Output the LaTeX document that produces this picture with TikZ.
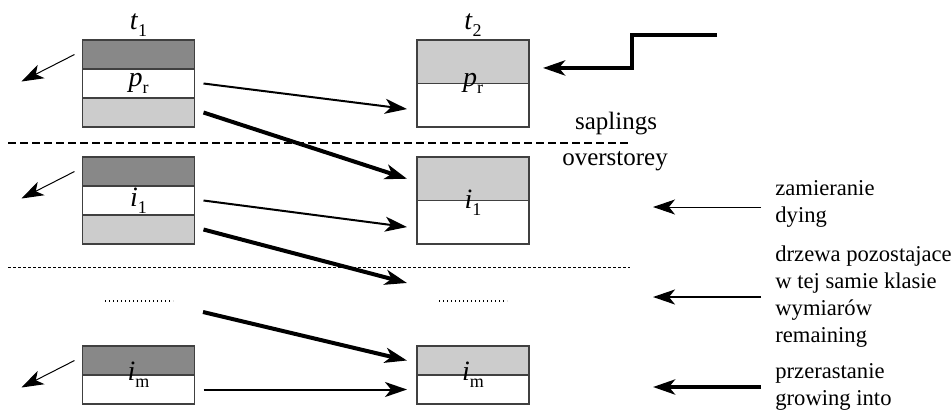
\documentclass[tikz,border=0pt]{standalone}
\usepackage{fontspec}
\setmainfont{Liberation Serif}
\usepackage{tikz}
\usetikzlibrary{arrows.meta}
\definecolor{deadgray}{HTML}{888888}
\definecolor{ingray}{HTML}{CCCCCC}
\newcommand{\cls}[2]{{\fontsize{14}{14}\selectfont\textit{#1}}\raisebox{-3.5pt}{\fontsize{9}{9}\selectfont #2}}

\begin{document}
\begin{tikzpicture}[x=0.5pt, y=-0.5pt,
        font=\fontsize{11.3}{13.5}\selectfont,
        band/.style={draw=black!75, line width=0.6pt, minimum width=56pt, inner sep=0pt, outer sep=0pt},
        thin band/.style={band, minimum height=14.5pt},
        half band/.style={band, minimum height=21.75pt},
        lbl/.style={inner sep=0pt},
        layer/.style={inner sep=0pt, font=\fontsize{12.5}{13.5}\selectfont},
        tip/.style={-{Stealth[length=11pt, width=7.5pt, inset=3pt]}},
        dying/.style={tip, line width=0.5pt},
        remain/.style={tip, line width=1pt},
        growinto/.style={tip, line width=2pt}]
        \useasboundingbox (0,0) rectangle (951,413);

        % classes at t1 and t2
        \node[lbl] (t1) at (138.5,25) {\cls{t}{1}};
        \node[lbl] (t2) at (473,25) {\cls{t}{2}};

        \node[thin band, fill=deadgray] (pa) at (138.5,54.5) {};
        \node[thin band, fill=white] (pb) at (138.5,83.5) {};
        \node[thin band, fill=ingray] (pc) at (138.5,112.5) {};
        \node[half band, fill=ingray] (qa) at (473,61.75) {};
        \node[half band, fill=white] (qb) at (473,105.25) {};
        \node[lbl] (pl) at (pb) {\cls{p}{r}};
        \node[lbl] (pr) at (qa.south) {\cls{p}{r}};

        \node[thin band, fill=deadgray] (ia) at (138.5,171.5) {};
        \node[thin band, fill=white] (ib) at (138.5,200.5) {};
        \node[thin band, fill=ingray] (ic) at (138.5,229.5) {};
        \node[half band, fill=ingray] (ja) at (473,178.75) {};
        \node[half band, fill=white] (jb) at (473,222.25) {};
        \node[lbl] (il) at (ib) {\cls{i}{1}};
        \node[lbl] (ir) at ([yshift=-1pt]ja.south) {\cls{i}{1}};

        \node[thin band, fill=deadgray] (ma) at (138.5,360.5) {};
        \node[thin band, fill=white] (mb) at (138.5,389.5) {};
        \node[thin band, fill=ingray] (na) at (473,360.5) {};
        \node[thin band, fill=white] (nb) at (473,389.5) {};
        \node[lbl] (ml) at (ma.south) {\cls{i}{m}};
        \node[lbl] (mr) at (na.south) {\cls{i}{m}};

        % separators
        \draw[line width=1.25pt, dash pattern=on 4pt off 2pt] (8,143) -- (630,143);
        \draw[line width=0.5pt, dash pattern=on 1.5pt off 1pt] (8,267) -- (630,267);
        \draw[line width=0.6pt, dash pattern=on 0.6pt off 1.4pt] (105,301) -- (173,301);
        \draw[line width=0.6pt, dash pattern=on 0.6pt off 1.4pt] (439,301) -- (507,301);
        \node[layer] (sap) at (616,124) {saplings};
        \node[layer] (over) at (615,161) {overstorey};

        % dying
        \draw[dying] ([xshift=-4pt]pa.west) -- ++(-53,27);
        \draw[dying] ([xshift=-4pt]ia.west) -- ++(-53,27);
        \draw[dying] ([xshift=-4pt]ma.west) -- ++(-53,27);

        % remaining and growing into
        \coordinate (gapl) at (203,312);
        \coordinate (gapr) at (407,283);
        \draw[remain] ([xshift=4.5pt]pb.east) -- ([xshift=-5pt, yshift=-1.9pt]qb.west);
        \draw[growinto] ([xshift=4.5pt]pc.east) -- ([xshift=-5pt]ja.west);
        \draw[remain] ([xshift=4.5pt]ib.east) -- ([xshift=-5pt, yshift=-2.4pt]jb.west);
        \draw[growinto] ([xshift=4.5pt]ic.east) -- (gapr);
        \draw[growinto] (gapl) -- ([xshift=-5pt]na.west);
        \draw[remain] ([xshift=4.5pt]mb.east) -- ([xshift=-5pt]nb.west);

        % recruitment
        \coordinate (feed) at (717,35);
        \draw[growinto] (feed) -- (632,35) |- ([xshift=7pt, yshift=-3.1pt]qa.east);

        % legend
        \node[lbl, anchor=west, align=left] (zam) at (775,204) {zamieranie\\dying};
        \node[lbl, anchor=west, align=left] (rem) at (775,297) {drzewa pozostajace\\w tej samie klasie\\wymiarów\\remaining};
        \node[lbl, anchor=west, align=left] (prz) at (775,387) {przerastanie\\growing into};
        \draw[dying] ([xshift=-7pt, yshift=-1.5pt]zam.west) -- ++(-108,0);
        \draw[remain] ([xshift=-7pt]rem.west) -- ++(-108,0);
        \draw[growinto] ([xshift=-7pt]prz.west) -- ++(-108,0);
    \end{tikzpicture}
\end{document}
